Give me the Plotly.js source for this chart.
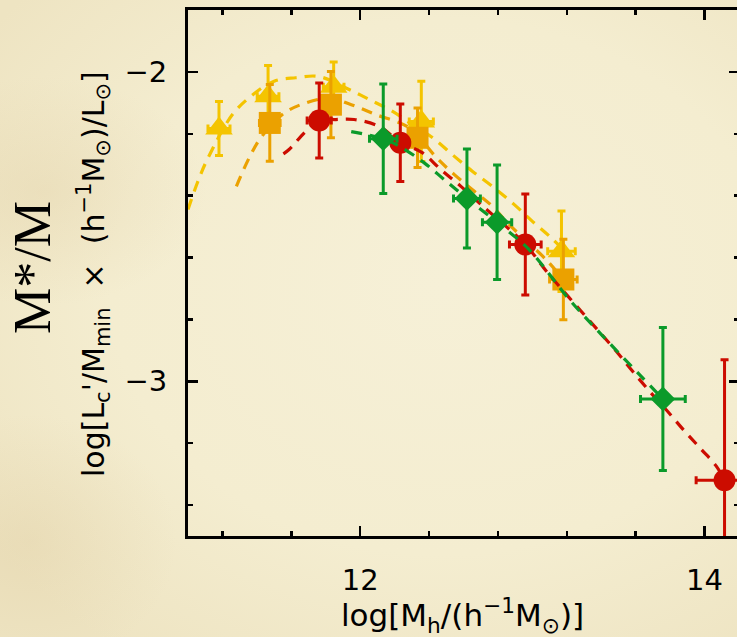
<!DOCTYPE html>
<html>
<head>
<meta charset="utf-8">
<script src="https://cdn.plot.ly/plotly-3.0.1.min.js"></script>
<style>
html, body { margin:0; padding:0; overflow:hidden; width:737px; height:637px; }
body {
  background:
    radial-gradient(ellipse 22% 18% at 6% 30%, rgba(220,200,155,0.30), rgba(220,200,155,0) 100%),
    radial-gradient(ellipse 20% 20% at 4% 85%, rgba(220,200,155,0.30), rgba(220,200,155,0) 100%),
    radial-gradient(ellipse 75% 70% at 60% 45%, #F6F0D7 0%, #F4EDD0 60%, #EEE4C2 100%);
}
#chart { width:745px; height:637px; }
</style>
</head>
<body>
<div id="chart"></div>
<script>
// ---- data ----
// yellow triangles
const xTri  = [11.18, 11.465, 11.846, 12.355, 13.169];
const yTri  = [-2.183, -2.079, -2.048, -2.160, -2.580];
const eyTri = [0.087, 0.100, 0.080, 0.130, 0.130];
const exTri = [0.064, 0.063, 0.060, 0.070, 0.080];
// orange squares
const xSq  = [11.475, 11.83, 12.333, 13.18];
const ySq  = [-2.165, -2.106, -2.213, -2.671];
const eySq = [0.124, 0.107, 0.096, 0.130];
const exSq = [0.060, 0.050, 0.050, 0.080];
// red circles
const xCir  = [11.762, 12.233, 12.959, 14.116];
const yCir  = [-2.157, -2.229, -2.558, -3.320];
const eyCir = [0.121, 0.125, 0.163, 0.390];
const exCir = [0.070, 0.050, 0.092, 0.165];
// green diamonds
const xDia  = [12.134, 12.62, 12.795, 13.758];
const yDia  = [-2.216, -2.409, -2.486, -3.057];
const eyDia = [0.177, 0.160, 0.185, 0.231];
const exDia = [0.080, 0.078, 0.085, 0.130];

// dashed model curves
const xCurveY = [11.0, 11.054, 11.112, 11.258, 11.365, 11.5, 11.626, 11.76, 11.936, 12.052, 12.186, 12.302, 12.419, 12.547, 12.651, 12.767, 12.895, 13.0, 13.099, 13.196];
const yCurveY = [-2.445, -2.359, -2.283, -2.138, -2.079, -2.030, -2.019, -2.015, -2.057, -2.089, -2.127, -2.170, -2.212, -2.273, -2.321, -2.370, -2.429, -2.483, -2.531, -2.584];
const xCurveO = [11.281, 11.355, 11.423, 11.548, 11.655, 11.82, 11.948, 12.091, 12.285, 12.448, 12.547, 12.663, 12.767, 12.866, 13.08, 13.18];
const yCurveO = [-2.370, -2.278, -2.213, -2.138, -2.106, -2.085, -2.106, -2.138, -2.181, -2.280, -2.332, -2.386, -2.434, -2.494, -2.607, -2.671];
const xCurveR = [11.554, 11.587, 11.684, 11.762, 11.859, 11.965, 12.11, 12.233, 12.36, 12.469, 12.585, 12.702, 12.959, 13.087, 13.487, 13.581, 13.68, 13.785, 13.884, 13.981, 14.068, 14.116];
const yCurveR = [-2.265, -2.251, -2.192, -2.157, -2.154, -2.154, -2.176, -2.228, -2.261, -2.316, -2.370, -2.429, -2.558, -2.648, -2.903, -2.967, -3.032, -3.097, -3.161, -3.220, -3.274, -3.320];
const xCurveG = [11.948, 12.134, 12.227, 12.372, 12.488, 12.62, 12.795, 12.98, 13.215, 13.428, 13.632, 13.758];
const yCurveG = [-2.193, -2.216, -2.240, -2.294, -2.348, -2.409, -2.486, -2.574, -2.736, -2.865, -2.984, -3.057];

const xTickVals = [12, 14];
const xTickText = ['12', '14'];
const yTickVals = [-3, -2];
const yTickText = ['\u22123', '\u22122'];

// ---- styles ----
const cYel = '#F4C400', cOra = '#EBA100', cRed = '#CC0C00', cGrn = '#0B9A2A';
const dashStyle = '11px,8px';
const sansFam = '"DejaVu Sans", Lato, sans-serif';

function curve(x, y, c) {
  return {x:x, y:y, type:'scatter', mode:'lines', line:{color:c, width:3.2, dash:dashStyle, shape:'spline'}, hoverinfo:'skip', showlegend:false};
}
function pts(x, y, ex, ey, c, sym, size) {
  return {x:x, y:y, type:'scatter', mode:'markers',
    marker:{color:c, symbol:sym, size:size, line:{width:0}},
    error_y:{type:'data', array:ey, visible:true, color:c, thickness:3, width:4},
    error_x:{type:'data', array:ex, visible:true, color:c, thickness:3, width:4},
    showlegend:false};
}

const data = [
  curve(xCurveY, yCurveY, cYel),
  pts(xTri, yTri, exTri, eyTri, cYel, 'triangle-up', 24),
  curve(xCurveO, yCurveO, cOra),
  pts(xSq, ySq, exSq, eySq, cOra, 'square', 22),
  curve(xCurveR, yCurveR, cRed),
  pts(xCir, yCir, exCir, eyCir, cRed, 'circle', 22),
  curve(xCurveG, yCurveG, cGrn),
  pts(xDia, yDia, exDia, eyDia, cGrn, 'diamond', 19)
];

const tickFont = {family:sansFam, size:29, color:'#000'};
const sp = '\u00a0\u00a0';

const layout = {
  width:745, height:637,
  margin:{l:188, r:6, t:10, b:101},
  paper_bgcolor:'rgba(0,0,0,0)', plot_bgcolor:'rgba(0,0,0,0)',
  xaxis:{range:[11.0, 14.2], showgrid:false, zeroline:false, showline:true, linecolor:'#000', linewidth:3,
    mirror:'ticks', ticks:'inside', ticklen:10, tickwidth:2.5, tickcolor:'#000',
    tickmode:'array', tickvals:xTickVals, ticktext:xTickText, tickfont:tickFont, ticklabelstandoff:16,
    minor:{dtick:0.4, tick0:12, ticks:'inside', ticklen:5, tickwidth:2.5, tickcolor:'#000', showgrid:false}},
  yaxis:{range:[-3.5, -1.8], showgrid:false, zeroline:false, showline:true, linecolor:'#000', linewidth:3,
    mirror:'ticks', ticks:'inside', ticklen:10, tickwidth:2.5, tickcolor:'#000',
    tickmode:'array', tickvals:yTickVals, ticktext:yTickText, tickfont:tickFont, ticklabelstandoff:12,
    minor:{dtick:0.2, tick0:-3, ticks:'inside', ticklen:5, tickwidth:2.5, tickcolor:'#000', showgrid:false}},
  annotations:[
    {text:'log[M<sub>h</sub>/(h<sup>\u22121</sup>M<sub>\u2299</sub>)]', xref:'paper', yref:'paper', x:0.4973, y:-0.152,
     xanchor:'center', yanchor:'middle', showarrow:false, font:{family:sansFam, size:31, color:'#000'}},
    {text:'log[L<sub>c</sub>\'/M<sub>min</sub>' + sp + '\u00d7' + sp + '(h<sup>\u22121</sup>M<sub>\u2299</sub>)/L<sub>\u2299</sub>]', xref:'paper', yref:'paper',
     x:-0.1724, y:0.498, xanchor:'center', yanchor:'middle', textangle:-90, showarrow:false,
     font:{family:sansFam, size:30, color:'#000'}},
    {text:'M*/M', xref:'paper', yref:'paper', x:-0.2831, y:0.5095, xanchor:'center', yanchor:'middle', textangle:-90,
     showarrow:false, font:{family:'"Liberation Serif", "DejaVu Serif", serif', size:52, color:'#000'}}
  ]
};

Plotly.newPlot('chart', data, layout, {displayModeBar:false, staticPlot:true});
</script>
</body>
</html>
